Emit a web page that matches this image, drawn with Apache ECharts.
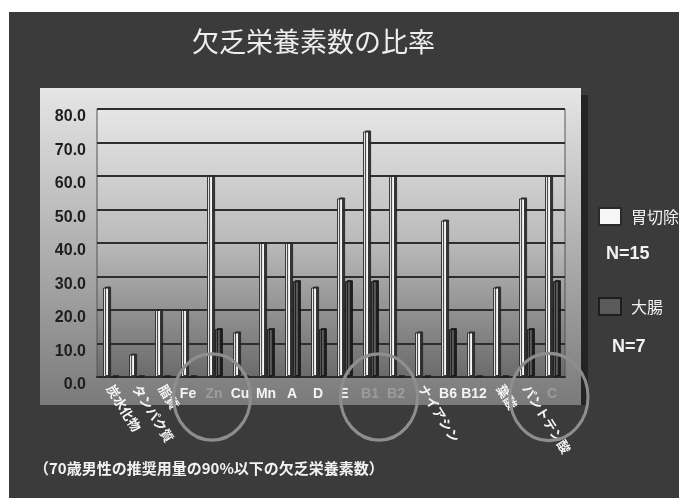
<!DOCTYPE html>
<html>
<head>
<meta charset="utf-8">
<script src="https://cdn.jsdelivr.net/npm/echarts@6/dist/echarts.min.js"></script>
<style>
  html, body { margin: 0; padding: 0; background: #ffffff; }
  #chart { width: 679px; height: 498px; }
</style>
</head>
<body>
<div id="chart"></div>
<script>
// 栄養素カテゴリ
const categories = ['炭水化物', 'タンパク質', '脂質', 'Fe', 'Zn', 'Cu', 'Mn', 'A', 'D', 'E',
    'B1', 'B2', 'ナイアシン', 'B6', 'B12', '葉酸', 'パントテン酸', 'C'];
// 胃切除 (N=15), 比率 %
const gastrectomy = [26.7, 6.7, 20.0, 20.0, 60.0, 13.3, 40.0, 40.0, 26.7, 53.3,
    73.3, 60.0, 13.3, 46.7, 13.3, 26.7, 53.3, 60.0];
// 大腸 (N=7), 比率 %
const colon = [0, 0, 0, 0, 14.3, 0, 14.3, 28.6, 14.3, 28.6,
    28.6, 0, 0, 14.3, 0, 0, 14.3, 28.6];
// 斜めに描くラベル
const rotatedLabels = ['炭水化物', 'タンパク質', '脂質', 'ナイアシン', '葉酸', 'パントテン酸'];
// 丸で囲まれた (薄い) ラベル
const dimLabels = ['Zn', 'B1', 'B2', 'C'];
const yMin = 0, yMax = 80, yStep = 10;

const chart = echarts.init(document.getElementById('chart'));

const flatData = categories.map(c => dimLabels.includes(c)
    ? {value: c, textStyle: {color: '#9c9c9c'}}
    : c);

const option = {
    backgroundColor: '#ffffff',
    animation: false,
    title: [{
        text: '欠乏栄養素数の比率',
        left: 192, top: 28, padding: 0,
        textStyle: {color: '#eeeeee', fontSize: 27, fontWeight: 'normal', fontFamily: 'Noto Sans CJK JP'}
    }, {
        text: '（70歳男性の推奨用量の90%以下の欠乏栄養素数）',
        left: 34, top: 461, padding: 0,
        textStyle: {color: '#f2f2f2', fontSize: 15, fontWeight: 'bold', fontFamily: 'Noto Sans CJK JP'}
    }],
    legend: {
        orient: 'vertical',
        left: 598, top: 207,
        itemWidth: 22, itemHeight: 17,
        itemGap: 71,
        padding: 0,
        icon: 'rect',
        textStyle: {color: '#f0f0f0', fontSize: 16, fontFamily: 'Noto Sans CJK JP', padding: [0, 0, 0, 5]},
        data: ['胃切除', '大腸']
    },
    grid: {
        left: 97, right: 114, top: 109, bottom: 121,
        show: true,
        borderColor: '#555555', borderWidth: 1,
        backgroundColor: {
            type: 'linear', x: 0, y: 0, x2: 0, y2: 1,
            colorStops: [
                {offset: 0, color: '#e6e6e6'},
                {offset: 0.5, color: '#bababa'},
                {offset: 1, color: '#6a6a6a'}
            ]
        }
    },
    xAxis: [{
        type: 'category',
        position: 'bottom',
        data: flatData,
        axisLine: {lineStyle: {color: '#2a2a2a', width: 2}},
        axisTick: {show: false},
        axisLabel: {
            interval: 0, margin: 10,
            color: '#f4f4f4', fontSize: 14, fontWeight: 'bold', fontFamily: 'Liberation Sans',
            formatter: v => rotatedLabels.includes(v) ? '' : v
        }
    }, {
        type: 'category',
        position: 'bottom',
        data: categories,
        axisLine: {show: false},
        axisTick: {show: false},
        axisLabel: {
            interval: 0, margin: 9, rotate: -58,
            color: '#f4f4f4', fontSize: 13, fontWeight: 'bold', fontFamily: 'Noto Sans CJK JP',
            formatter: v => rotatedLabels.includes(v) ? v : ''
        }
    }],
    yAxis: {
        type: 'value',
        min: yMin, max: yMax, interval: yStep,
        axisLine: {show: false},
        axisTick: {show: false},
        axisLabel: {
            margin: 11, verticalAlign: 'top',
            color: '#1e1e1e', fontSize: 16, fontWeight: 'bold', fontFamily: 'Liberation Sans',
            formatter: v => v.toFixed(1)
        },
        splitLine: {lineStyle: {color: '#2e2e2e', width: 2}}
    },
    series: [{
        name: '胃切除',
        type: 'bar',
        xAxisIndex: 0,
        data: gastrectomy,
        barWidth: 6,
        barGap: '30%',
        itemStyle: {
            color: '#f6f6f6', borderColor: '#2a2a2a', borderWidth: 1,
            shadowColor: 'rgba(40,40,40,0.9)', shadowOffsetX: 2, shadowOffsetY: -1, shadowBlur: 0
        }
    }, {
        name: '大腸',
        type: 'bar',
        xAxisIndex: 0,
        data: colon,
        barWidth: 6,
        itemStyle: {
            color: '#5a5a5a', borderColor: '#1e1e1e', borderWidth: 1,
            shadowColor: 'rgba(20,20,20,0.9)', shadowOffsetX: 2, shadowOffsetY: -1, shadowBlur: 0
        }
    }],
    graphic: [
        // スライド背景
        {type: 'rect', z: -30, shape: {x: 9, y: 12, width: 670, height: 486}, style: {fill: '#3b3b3b'}},
        // グラフパネルの影
        {type: 'rect', z: -25, shape: {x: 581, y: 95, width: 7, height: 310}, style: {fill: '#242424'}},
        // グラフパネル
        {
            type: 'rect', z: -20, shape: {x: 40, y: 88, width: 541, height: 317},
            style: {
                fill: {
                    type: 'linear', x: 0, y: 0, x2: 0, y2: 1,
                    colorStops: [{offset: 0, color: '#e6e6e6'}, {offset: 1, color: '#7a7a7a'}]
                }
            }
        },
        // N 表記
        {type: 'text', z: 50, x: 606, y: 245, style: {text: 'N=15', fill: '#f2f2f2', font: 'bold 18px "Liberation Sans"'}},
        {type: 'text', z: 50, x: 612, y: 338, style: {text: 'N=7', fill: '#f2f2f2', font: 'bold 18px "Liberation Sans"'}},
        // 注目の丸
        {type: 'circle', z: 100, x: 212, y: 397, scaleY: 1.12, shape: {cx: 0, cy: 0, r: 38.5}, style: {fill: 'none', stroke: '#8e8e8e', lineWidth: 3}},
        {type: 'circle', z: 100, x: 379, y: 397, scaleY: 1.12, shape: {cx: 0, cy: 0, r: 38.5}, style: {fill: 'none', stroke: '#8e8e8e', lineWidth: 3}},
        {type: 'circle', z: 100, x: 549, y: 397, scaleY: 1.12, shape: {cx: 0, cy: 0, r: 39}, style: {fill: 'none', stroke: '#8e8e8e', lineWidth: 3}}
    ]
};

chart.setOption(option);
</script>
</body>
</html>
